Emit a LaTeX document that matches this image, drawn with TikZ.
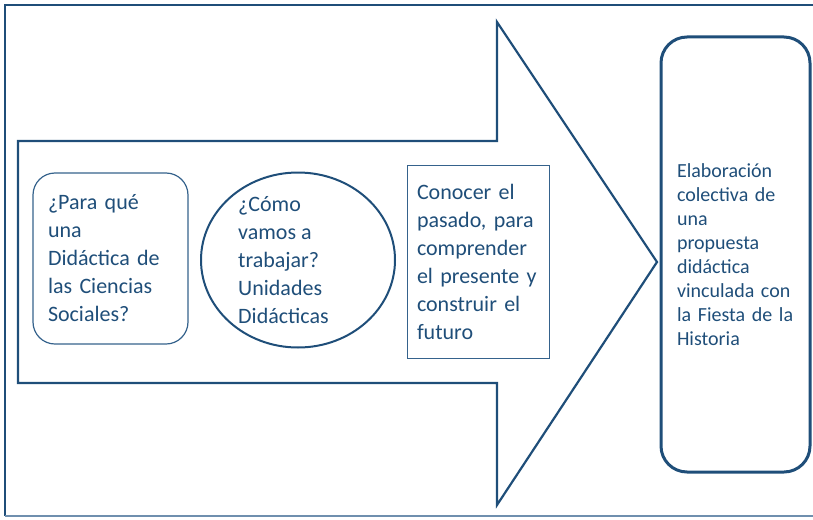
\documentclass[tikz,border=0pt]{standalone}
\usepackage{fontspec}
\setmainfont{Carlito}
\usetikzlibrary{positioning,shapes.geometric}
\definecolor{didblue}{HTML}{1F4E79}
\definecolor{didline}{HTML}{35628C}
\definecolor{didpale}{HTML}{6F8FAE}

\tikzset{
  didtext/.style={font=\fontsize{22}{28}\selectfont,text=didblue,align=left},
  sidetext/.style={font=\fontsize{20}{24}\selectfont,text=didblue,align=left}
}

\begin{document}
\begin{tikzpicture}[x=1pt,y=-1pt]
  \useasboundingbox (0,0) rectangle (813,519);

  % ---- Outer frame -------------------------------------------
  \draw[didblue,line width=2.6pt] (813,5) -- (5,5) -- (5,516);
  \draw[didpale,line width=1.4pt] (5,516) -- (813,516);

  % ---- Big arrow ---------------------------------------------
  \draw[didblue,line width=2.2pt,line join=miter]
    (18,141) -- (497,141) -- (497,22) -- (657,262)
    -- (497,505) -- (497,383) -- (18,383) -- cycle;

  % ============================================================
  %  Inside the arrow
  % ============================================================
  \node[draw=didline,line width=1.2pt,rounded corners=22pt,
        minimum width=155pt,minimum height=171pt,
        text width=125pt,inner xsep=15pt,didtext]
    (why) at (110.5,258.5)
    {¿Para qué\\una\\Didáctica de\\las Ciencias\\Sociales?};

  \node[ellipse,draw=didblue,line width=2pt,
        minimum width=194pt,minimum height=175pt] (how) at (298,260) {};
  \node[didtext,anchor=west,inner sep=0pt] (howtext) at (238,260)
    {¿Cómo\\vamos a\\trabajar?\\Unidades\\Didácticas};

  \node[draw=didline,line width=1pt,
        minimum width=142pt,minimum height=193pt,
        text width=122pt,inner xsep=10pt,didtext]
    (past) at (478,261.5)
    {Conocer el\\pasado, para\\comprender\\el presente y\\construir el\\futuro};

  % ============================================================
  %  Right: final box
  % ============================================================
  \node[draw=didblue,line width=3pt,rounded corners=26pt,
        minimum width=149pt,minimum height=435pt,
        text width=117pt,inner xsep=16pt,sidetext]
    (goal) at (735.5,254.5)
    {Elaboración\\colectiva de\\una\\propuesta\\didáctica\\vinculada con\\la Fiesta de la\\Historia};

\end{tikzpicture}
\end{document}
